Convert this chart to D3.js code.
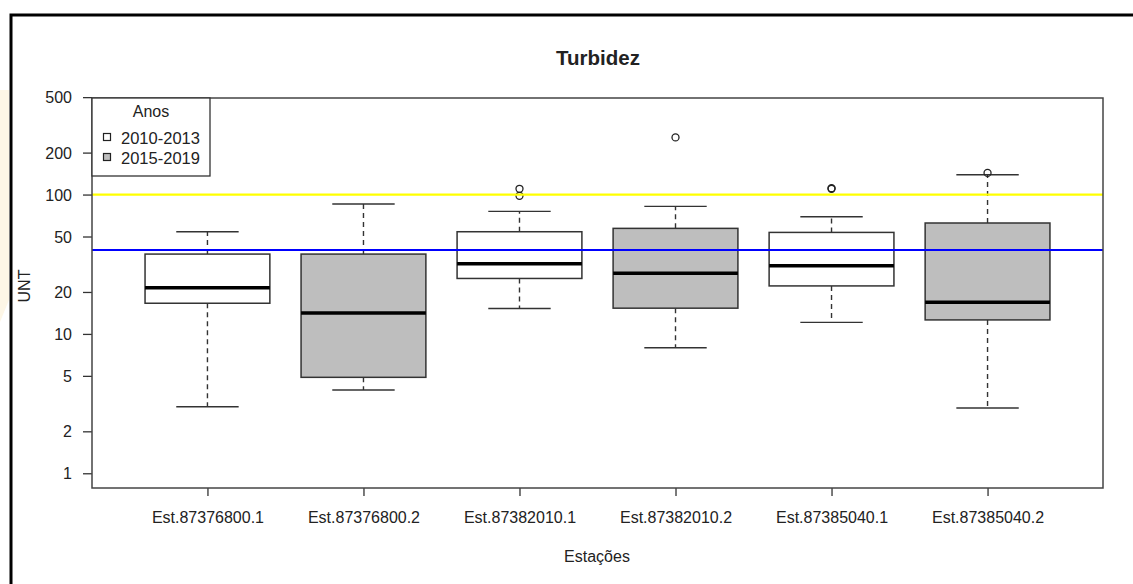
<!DOCTYPE html>
<html>
<head>
<meta charset="utf-8">
<script src="https://cdn.jsdelivr.net/npm/d3@7"></script>
<style>
  body { margin: 0; background: #fff; }
  text { font-family: "Liberation Sans", Arial, sans-serif; fill: #222; }
</style>
</head>
<body>
<script>
// stations and boxplot stats
var stations = ["Est.87376800.1", "Est.87376800.2", "Est.87382010.1",
                "Est.87382010.2", "Est.87385040.1", "Est.87385040.2"];
var periods = ["2010-2013", "2015-2019", "2010-2013", "2015-2019", "2010-2013", "2015-2019"];
var lowWhisker = [3.0, 3.96, 15.2, 7.96, 12.1, 2.94];
var q1 = [16.6, 4.88, 25.0, 15.3, 22.1, 12.6];
var median = [21.4, 14.1, 31.9, 27.3, 30.9, 16.9];
var q3 = [37.4, 37.4, 54.1, 57.2, 53.5, 62.5];
var highWhisker = [54.1, 85.5, 75.7, 82.3, 69.3, 138.7];
var outliers = [[], [], [110, 98], [257], [110, 111], [143]];
var yTicks = [1, 2, 5, 10, 20, 50, 100, 200, 500];
var refLines = [{v: 100, color: "#ffff00"}, {v: 40, color: "#0000ff"}];
var legendItems = ["2010-2013", "2015-2019"];
var fillFor = {"2010-2013": "#ffffff", "2015-2019": "#bebebe"};

var W = 1133, H = 584;
var plot = {left: 92, right: 1103, top: 98, bottom: 488};

var svg = d3.select("body").append("svg")
    .attr("width", W)
    .attr("height", H);

// faint background patch and outer frame
svg.append("polygon")
    .attr("points", "0,90 9,90 9,300 0,322")
    .attr("fill", "#fdf6e6");
svg.append("rect")
    .attr("x", 11).attr("y", 15)
    .attr("width", W + 20).attr("height", H + 20)
    .attr("fill", "none")
    .attr("stroke", "#000")
    .attr("stroke-width", 3);

var x = d3.scaleLinear().domain([0.26, 6.74]).range([plot.left, plot.right]);
var y = d3.scaleLog().domain([0.784, 493]).range([plot.bottom, plot.top]);
var unit = x(2) - x(1);
var boxW = unit * 0.8;
var capW = unit * 0.4;

var data = stations.map(function(s, i) {
  return {name: s, period: periods[i], lo: lowWhisker[i], q1: q1[i], med: median[i],
          q3: q3[i], hi: highWhisker[i], out: outliers[i], pos: i + 1};
});

// axes
var yAxis = d3.axisLeft(y).tickValues(yTicks).tickFormat(d3.format("d")).tickSize(9).tickPadding(11);
var xAxis = d3.axisBottom(x).tickValues(data.map(function(d) { return d.pos; }))
    .tickFormat(function(d, i) { return stations[i]; }).tickSize(8).tickPadding(16);

var gy = svg.append("g")
    .attr("transform", "translate(" + plot.left + ",0)")
    .call(yAxis);
gy.select(".domain").remove();
gy.selectAll("line").attr("stroke", "#333").attr("stroke-width", 1.3);
gy.selectAll("text").style("font-size", "16px").attr("fill", "#222").attr("dy", "0.35em");

var gx = svg.append("g")
    .attr("transform", "translate(0," + plot.bottom + ")")
    .call(xAxis);
gx.select(".domain").remove();
gx.selectAll("line").attr("stroke", "#333").attr("stroke-width", 1.3);
gx.selectAll("text").style("font-size", "16px").attr("fill", "#222");

// boxes
var box = svg.selectAll(".box")
    .data(data)
  .enter().append("g")
    .attr("class", "box");

box.append("line")
    .attr("x1", function(d) { return x(d.pos); })
    .attr("x2", function(d) { return x(d.pos); })
    .attr("y1", function(d) { return y(d.q3); })
    .attr("y2", function(d) { return y(d.hi); })
    .attr("stroke", "#333").attr("stroke-width", 1.4).attr("stroke-dasharray", "5,4");
box.append("line")
    .attr("x1", function(d) { return x(d.pos); })
    .attr("x2", function(d) { return x(d.pos); })
    .attr("y1", function(d) { return y(d.q1); })
    .attr("y2", function(d) { return y(d.lo); })
    .attr("stroke", "#333").attr("stroke-width", 1.4).attr("stroke-dasharray", "5,4");
["hi", "lo"].forEach(function(k) {
  box.append("line")
      .attr("x1", function(d) { return x(d.pos) - capW / 2; })
      .attr("x2", function(d) { return x(d.pos) + capW / 2; })
      .attr("y1", function(d) { return y(d[k]); })
      .attr("y2", function(d) { return y(d[k]); })
      .attr("stroke", "#333").attr("stroke-width", 1.4);
});
box.append("rect")
    .attr("x", function(d) { return x(d.pos) - boxW / 2; })
    .attr("width", boxW)
    .attr("y", function(d) { return y(d.q3); })
    .attr("height", function(d) { return y(d.q1) - y(d.q3); })
    .attr("fill", function(d) { return fillFor[d.period]; })
    .attr("stroke", "#333").attr("stroke-width", 1.5);
box.append("line")
    .attr("x1", function(d) { return x(d.pos) - boxW / 2; })
    .attr("x2", function(d) { return x(d.pos) + boxW / 2; })
    .attr("y1", function(d) { return y(d.med); })
    .attr("y2", function(d) { return y(d.med); })
    .attr("stroke", "#000").attr("stroke-width", 3.5);
box.selectAll(".out")
    .data(function(d) { return d.out.map(function(v) { return {pos: d.pos, v: v}; }); })
  .enter().append("circle")
    .attr("cx", function(d) { return x(d.pos); })
    .attr("cy", function(d) { return y(d.v); })
    .attr("r", 3.5)
    .attr("fill", "none")
    .attr("stroke", "#222").attr("stroke-width", 1.3);

// reference lines on top
svg.selectAll(".ref")
    .data(refLines)
  .enter().append("line")
    .attr("x1", plot.left).attr("x2", plot.right)
    .attr("y1", function(d) { return y(d.v); })
    .attr("y2", function(d) { return y(d.v); })
    .attr("stroke", function(d) { return d.color; })
    .attr("stroke-width", 2.2);

// plot frame
svg.append("rect")
    .attr("x", plot.left).attr("y", plot.top)
    .attr("width", plot.right - plot.left)
    .attr("height", plot.bottom - plot.top)
    .attr("fill", "none")
    .attr("stroke", "#444").attr("stroke-width", 1.5);

// legend
var lg = svg.append("g");
lg.append("rect")
    .attr("x", plot.left).attr("y", plot.top)
    .attr("width", 118).attr("height", 78)
    .attr("fill", "#fff")
    .attr("stroke", "#333").attr("stroke-width", 1.3);
lg.append("text")
    .attr("x", 151).attr("y", 117)
    .attr("text-anchor", "middle")
    .style("font-size", "16px")
    .text("Anos");
legendItems.forEach(function(p, i) {
  lg.append("rect")
      .attr("x", 103.5).attr("y", 133.5 + i * 20)
      .attr("width", 7).attr("height", 7)
      .attr("fill", fillFor[p])
      .attr("stroke", "#222").attr("stroke-width", 1.2);
  lg.append("text")
      .attr("x", 121).attr("y", 143.5 + i * 20)
      .style("font-size", "16.5px")
      .text(p);
});

// titles
svg.append("text")
    .attr("x", 598).attr("y", 65)
    .attr("text-anchor", "middle")
    .style("font-size", "20.5px").style("font-weight", "bold")
    .attr("fill", "#111")
    .text("Turbidez");
svg.append("text")
    .attr("x", 597).attr("y", 562)
    .attr("text-anchor", "middle")
    .style("font-size", "16px")
    .text("Estações");
svg.append("text")
    .attr("transform", "translate(30,286) rotate(-90)")
    .attr("text-anchor", "middle")
    .style("font-size", "16px")
    .text("UNT");
</script>
</body>
</html>
